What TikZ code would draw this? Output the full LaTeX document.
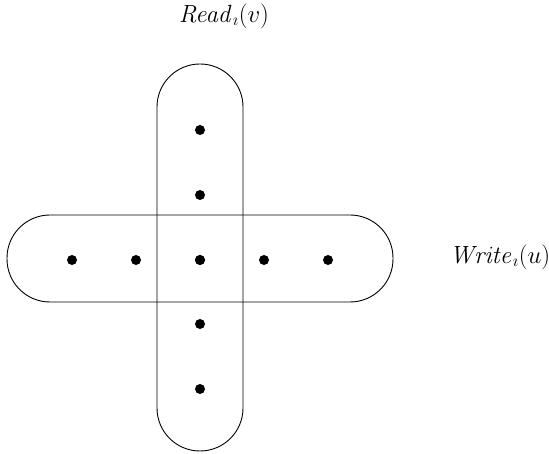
\documentclass[tikz,border=0pt]{standalone}
\usepackage{amsmath,amssymb}
\usepackage{tikz}
\usetikzlibrary{positioning}

\begin{document}
\begin{tikzpicture}[x=1pt, y=-1pt,
  pill/.style={draw, line width=0.9pt, rounded corners=43pt, inner sep=0pt},
  dot/.style={circle, fill, inner sep=0pt, minimum size=10pt},
  lab/.style={font=\fontsize{24}{28}\selectfont}]
\useasboundingbox (0,0) rectangle (549,454);
\node[pill, minimum width=86pt, minimum height=387pt] (readset) at (200,257.5) {};
\node[pill, minimum width=386pt, minimum height=87pt] (writeset) at (200,258.5) {};
% the two sets share the middle element
\foreach \y [count=\i] in {130,195,260,324,389}
  \node[dot] (r\i) at (200,\y) {};
\foreach \x [count=\i] in {72,136,200,264,328}
  \node[dot] (w\i) at (\x,260) {};
\node[lab] (readlab) at (224,16) {$\mathit{Read}_\imath(v)$};
\node[lab] (writelab) at (500,257) {$\mathit{Write}_\imath(u)$};
\end{tikzpicture}
\end{document}
